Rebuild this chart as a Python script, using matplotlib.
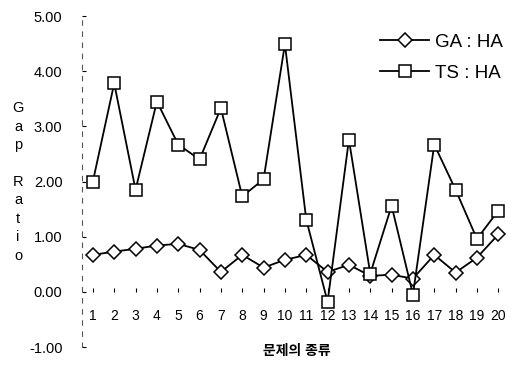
import matplotlib
matplotlib.use("Agg")
import matplotlib.pyplot as plt

plt.rcParams["font.family"] = ["Liberation Sans", "Noto Sans CJK KR", "DejaVu Sans"]

problems = list(range(1, 21))
ga_ha = [0.67, 0.73, 0.78, 0.84, 0.87, 0.76, 0.36, 0.67, 0.44, 0.58,
         0.67, 0.36, 0.49, 0.29, 0.31, 0.24, 0.67, 0.35, 0.62, 1.04]
ts_ha = [2.00, 3.78, 1.85, 3.45, 2.67, 2.40, 3.33, 1.73, 2.04, 4.49,
         1.31, -0.18, 2.76, 0.33, 1.56, -0.05, 2.67, 1.85, 0.96, 1.47]
yticks = [-1, 0, 1, 2, 3, 4, 5]

fig = plt.figure(figsize=(5.18, 3.69), dpi=100)
ax = fig.add_axes([0.158, 0.0596, 0.827, 0.897])

ax.plot(problems, ga_ha, color="black", lw=1.3, marker="D", ms=7,
        mfc="white", mec="black", mew=1.1, label="GA : HA", zorder=3)
ax.plot(problems, ts_ha, color="black", lw=1.3, marker="s", ms=8,
        mfc="white", mec="black", mew=1.1, label="TS : HA", zorder=3)

ax.set_xlim(0.483, 20.56)
ax.set_ylim(-1, 5)
ax.set_yticks(yticks)
ax.set_yticklabels([f"{v:.2f}" for v in yticks], fontsize=10.5)
ax.set_xticks(problems)
ax.set_xticklabels([str(p) for p in problems], fontsize=10.5)

for s in ["top", "right"]:
    ax.spines[s].set_visible(False)
ax.spines["bottom"].set_position(("data", 0))
ax.spines["bottom"].set_color("none")
ax.spines["left"].set_linestyle((0, (4, 6)))
ax.spines["left"].set_linewidth(0.8)
ax.spines["left"].set_color("#555555")
ax.tick_params(axis="x", direction="in", length=3, pad=12, width=0.8)
ax.tick_params(axis="y", direction="in", length=3, pad=14, width=0.8)

ax.legend(loc="upper right", bbox_to_anchor=(1.0, 0.97), frameon=False,
          fontsize=13.5, handlelength=2.6, handletextpad=0.3,
          labelspacing=0.75, borderaxespad=0)

fig.text(18 / 518, 0.507, "G\na\np\n\nR\na\nt\ni\no", fontsize=10.5,
         ha="center", va="center", linespacing=1.4)
fig.text(297 / 518, 1 - 351 / 369, "문제의 종류", fontsize=10,
         ha="center", va="center", fontweight="bold")

fig.savefig("out.png", dpi=100)
